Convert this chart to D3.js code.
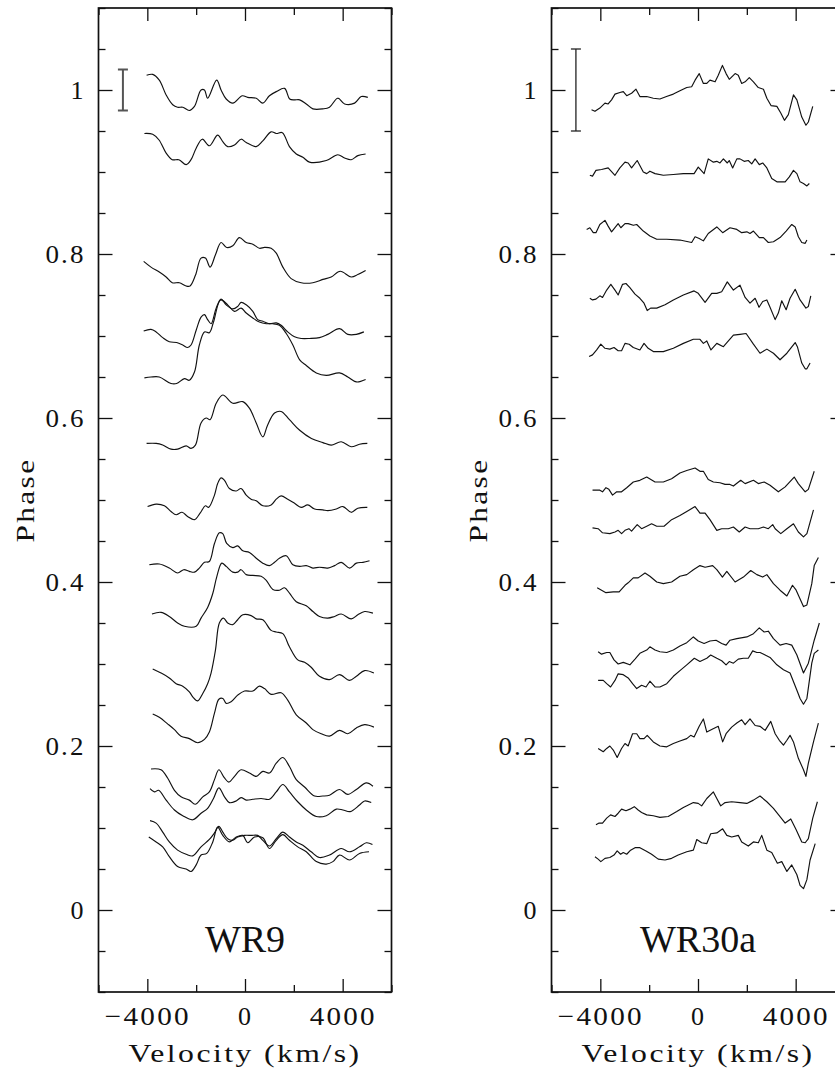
<!DOCTYPE html>
<html lang="en">
<head>
<meta charset="UTF-8">
<title>WR9 / WR30a line profiles by phase</title>
<style>
  html, body { margin: 0; padding: 0; background: #ffffff; }
  svg { display: block; }
  text { font-family: "Liberation Serif", "DejaVu Serif", serif; fill: #111; }
  .lbl { letter-spacing: 2px; }
</style>
</head>
<body>
<svg id="svg" width="835" height="1070"></svg>
<script src="https://d3js.org/d3.v7.min.js"></script>
<script>
// axis ticks and labels
const xMajor = [-4000, 0, 4000];
const xLabels = ["\u22124000", "0", "4000"];
const xMinor = [-6000, -2000, 2000, 6000];
const yMajor = [0, 0.2, 0.4, 0.6, 0.8, 1];
const yLabels = ["0", "0.2", "0.4", "0.6", "0.8", "1"];
const yMinor = [-0.1, -0.05, 0.05, 0.1, 0.15, 0.25, 0.3, 0.35, 0.45, 0.5, 0.55, 0.65, 0.7, 0.75, 0.85, 0.9, 0.95, 1.05, 1.1];

// WR9 profiles, [velocity km/s, phase]
const wr9Spectra = [
  [[-4030,1.018],[-3780,1.019],[-3510,1.012],[-3230,0.994],[-2960,0.982],[-2760,0.979],[-2550,0.979],[-2280,0.975],[-2070,0.980],[-1800,1.000],[-1660,1.000],[-1530,0.990],[-1160,1.012],[-980,1.000],[-770,0.989],[-500,0.984],[-110,0.993],[110,0.991],[460,0.990],[730,0.984],[1000,0.993],[1280,0.998],[1620,1.002],[1830,0.989],[2030,0.988],[2240,0.988],[2510,0.983],[2780,0.977],[3190,0.977],[3460,0.979],[3800,0.990],[4080,0.983],[4490,0.984],[4760,0.992],[5030,0.991]],
  [[-4120,0.947],[-3780,0.946],[-3520,0.939],[-3230,0.923],[-2980,0.915],[-2710,0.915],[-2410,0.909],[-2210,0.915],[-2000,0.929],[-1750,0.940],[-1460,0.932],[-1120,0.945],[-910,0.937],[-710,0.931],[-430,0.933],[-160,0.940],[50,0.936],[460,0.931],[730,0.938],[1070,0.949],[1280,0.947],[1530,0.948],[1820,0.931],[2100,0.922],[2370,0.918],[2640,0.912],[3330,0.914],[3800,0.921],[4080,0.917],[4350,0.915],[4620,0.920],[4940,0.922]],
  [[-4150,0.791],[-3850,0.784],[-3510,0.778],[-3230,0.772],[-2980,0.765],[-2690,0.765],[-2410,0.761],[-2250,0.761],[-2030,0.774],[-1800,0.795],[-1620,0.795],[-1430,0.784],[-1210,0.799],[-980,0.814],[-750,0.808],[-500,0.810],[-230,0.820],[50,0.814],[320,0.812],[590,0.807],[800,0.808],[1070,0.807],[1280,0.801],[1550,0.784],[1890,0.770],[2300,0.765],[2780,0.765],[3190,0.769],[3530,0.772],[3900,0.779],[4350,0.772],[4620,0.775],[4940,0.780]],
  [[-4150,0.706],[-3850,0.708],[-3640,0.705],[-3370,0.698],[-3100,0.693],[-2800,0.692],[-2550,0.689],[-2350,0.686],[-2210,0.689],[-2000,0.707],[-1800,0.723],[-1660,0.726],[-1530,0.720],[-1390,0.715],[-1180,0.734],[-980,0.745],[-770,0.738],[-500,0.733],[-300,0.736],[-160,0.741],[50,0.738],[320,0.730],[520,0.720],[730,0.718],[1000,0.715],[1280,0.716],[1480,0.713],[1750,0.705],[2030,0.699],[2300,0.697],[2640,0.697],[3050,0.698],[3390,0.702],[3870,0.709],[4210,0.702],[4560,0.702],[4870,0.705]],
  [[-4120,0.649],[-3850,0.650],[-3510,0.650],[-3030,0.642],[-2800,0.642],[-2480,0.648],[-2280,0.646],[-2070,0.656],[-1870,0.689],[-1660,0.705],[-1460,0.704],[-1290,0.717],[-1000,0.744],[-710,0.738],[-430,0.730],[-160,0.734],[50,0.728],[320,0.722],[590,0.717],[870,0.715],[1140,0.715],[1410,0.713],[1690,0.703],[1960,0.689],[2240,0.671],[2510,0.664],[2920,0.655],[3330,0.652],[3870,0.655],[4210,0.650],[4560,0.644],[4940,0.647]],
  [[-4030,0.569],[-3640,0.569],[-3370,0.567],[-3030,0.562],[-2760,0.562],[-2410,0.566],[-2210,0.563],[-2030,0.567],[-1800,0.594],[-1590,0.600],[-1430,0.598],[-1180,0.618],[-910,0.628],[-500,0.618],[-90,0.620],[180,0.612],[460,0.594],[730,0.577],[920,0.591],[1210,0.606],[1480,0.608],[1820,0.598],[2240,0.585],[2720,0.575],[3190,0.570],[3530,0.567],[3940,0.571],[4350,0.565],[4690,0.568],[5010,0.569]],
  [[-3990,0.492],[-3640,0.495],[-3300,0.493],[-3030,0.486],[-2820,0.482],[-2580,0.485],[-2350,0.480],[-2070,0.476],[-1840,0.484],[-1620,0.493],[-1490,0.491],[-1250,0.506],[-1120,0.520],[-980,0.527],[-840,0.524],[-640,0.514],[-360,0.511],[-160,0.514],[50,0.506],[250,0.501],[460,0.499],[730,0.493],[1070,0.494],[1280,0.501],[1480,0.505],[1750,0.501],[2030,0.496],[2300,0.491],[2570,0.494],[2850,0.489],[3190,0.488],[3390,0.487],[3740,0.489],[4010,0.492],[4350,0.485],[4620,0.490],[5010,0.491]],
  [[-3920,0.421],[-3510,0.422],[-3100,0.417],[-2760,0.411],[-2510,0.415],[-2280,0.413],[-2070,0.412],[-1870,0.417],[-1660,0.424],[-1460,0.425],[-1250,0.447],[-1050,0.460],[-910,0.459],[-750,0.447],[-500,0.442],[-300,0.444],[-90,0.438],[180,0.436],[460,0.429],[730,0.423],[1000,0.420],[1210,0.424],[1410,0.429],[1690,0.432],[1960,0.421],[2240,0.419],[2510,0.420],[2780,0.417],[3050,0.418],[3390,0.417],[3670,0.420],[3940,0.424],[4280,0.417],[4560,0.423],[4830,0.424],[5100,0.426]],
  [[-3810,0.361],[-3440,0.363],[-3100,0.358],[-2760,0.350],[-2480,0.346],[-2000,0.346],[-1800,0.356],[-1530,0.369],[-1320,0.386],[-1160,0.406],[-950,0.423],[-770,0.419],[-500,0.412],[-300,0.412],[-160,0.415],[50,0.409],[320,0.408],[660,0.407],[870,0.402],[1140,0.391],[1410,0.390],[1620,0.393],[1830,0.386],[2100,0.376],[2510,0.371],[2780,0.364],[3050,0.358],[3390,0.356],[3670,0.358],[3940,0.361],[4350,0.355],[4620,0.360],[4900,0.364],[5240,0.362]],
  [[-3780,0.294],[-3440,0.289],[-3100,0.283],[-2820,0.276],[-2550,0.273],[-2280,0.266],[-2140,0.260],[-1940,0.255],[-1730,0.264],[-1530,0.276],[-1390,0.289],[-1210,0.317],[-1050,0.350],[-880,0.356],[-710,0.350],[-500,0.348],[-300,0.354],[-90,0.360],[250,0.359],[460,0.355],[730,0.354],[1070,0.341],[1280,0.339],[1550,0.337],[1820,0.321],[2160,0.305],[2440,0.302],[2710,0.296],[3050,0.285],[3460,0.281],[3870,0.287],[4280,0.280],[4560,0.285],[4900,0.292],[5280,0.289]],
  [[-3780,0.239],[-3510,0.235],[-3170,0.227],[-2890,0.220],[-2620,0.212],[-2280,0.209],[-1940,0.204],[-1660,0.208],[-1460,0.217],[-1250,0.240],[-1070,0.257],[-910,0.258],[-770,0.252],[-570,0.254],[-300,0.262],[-20,0.267],[320,0.267],[590,0.273],[800,0.270],[1070,0.263],[1480,0.265],[1750,0.256],[2100,0.238],[2510,0.228],[2780,0.220],[3120,0.215],[3460,0.212],[3870,0.219],[4210,0.215],[4560,0.222],[4900,0.226],[5280,0.223]],
  [[-3850,0.172],[-3440,0.171],[-3170,0.161],[-2890,0.146],[-2620,0.138],[-2280,0.134],[-2040,0.129],[-1730,0.138],[-1460,0.144],[-1250,0.159],[-1070,0.171],[-840,0.161],[-660,0.156],[-430,0.163],[-160,0.171],[180,0.167],[460,0.163],[730,0.169],[1000,0.167],[1280,0.179],[1550,0.186],[1820,0.175],[2100,0.159],[2440,0.150],[2850,0.139],[3190,0.139],[3460,0.140],[3870,0.147],[4210,0.141],[4560,0.147],[4970,0.155],[5240,0.151]],
  [[-3890,0.148],[-3710,0.144],[-3540,0.146],[-3230,0.134],[-2890,0.122],[-2550,0.115],[-2140,0.110],[-1800,0.118],[-1530,0.124],[-1290,0.136],[-1070,0.149],[-840,0.138],[-640,0.131],[-360,0.133],[-160,0.137],[50,0.134],[320,0.135],[660,0.136],[1000,0.135],[1280,0.144],[1550,0.153],[1820,0.144],[2160,0.132],[2510,0.122],[2920,0.114],[3330,0.115],[3740,0.123],[4010,0.122],[4310,0.120],[4690,0.128],[4900,0.133],[5170,0.131]],
  [[-3890,0.109],[-3640,0.106],[-3370,0.095],[-3100,0.083],[-2760,0.073],[-2410,0.068],[-2140,0.066],[-1800,0.077],[-1460,0.086],[-1250,0.094],[-1070,0.102],[-910,0.095],[-710,0.087],[-500,0.085],[-300,0.089],[-20,0.091],[250,0.091],[520,0.091],[730,0.085],[1000,0.078],[1280,0.087],[1550,0.095],[1820,0.089],[2100,0.083],[2370,0.079],[2710,0.071],[3050,0.064],[3460,0.067],[3940,0.075],[4280,0.071],[4690,0.077],[4970,0.082],[5220,0.080]],
  [[-3940,0.089],[-3640,0.083],[-3370,0.077],[-3100,0.065],[-2760,0.053],[-2410,0.050],[-2210,0.047],[-2000,0.055],[-1800,0.067],[-1570,0.069],[-1320,0.083],[-1120,0.101],[-910,0.091],[-640,0.083],[-360,0.089],[-90,0.091],[110,0.082],[390,0.089],[730,0.088],[1000,0.075],[1280,0.085],[1550,0.092],[1820,0.085],[2160,0.077],[2510,0.071],[2920,0.059],[3330,0.056],[3600,0.059],[3870,0.067],[4280,0.061],[4690,0.069],[5080,0.071]]
];

// WR30a profiles, [velocity km/s, phase]
const wr30aSpectra = [
  [[-4360,0.976],[-4220,0.974],[-4020,0.978],[-3810,0.984],[-3680,0.983],[-3540,0.988],[-3400,0.995],[-3200,0.997],[-3060,0.998],[-2920,0.993],[-2720,0.996],[-2540,1.001],[-2380,0.992],[-2100,0.992],[-1830,0.990],[-1560,0.989],[-1290,0.992],[-1010,0.995],[-740,0.999],[-460,1.003],[-260,1.004],[-120,1.012],[50,1.020],[220,1.008],[360,1.008],[490,1.012],[700,1.010],[830,1.018],[1000,1.030],[1150,1.020],[1280,1.013],[1520,1.020],[1650,1.018],[1790,1.008],[1930,1.010],[2100,1.015],[2270,1.010],[2470,1.003],[2680,1.001],[2820,0.990],[2990,0.981],[3230,0.980],[3390,0.972],[3540,0.963],[3700,0.970],[3910,0.994],[4050,0.988],[4250,0.967],[4420,0.957],[4520,0.961],[4700,0.980]],
  [[-4430,0.896],[-4320,0.895],[-4180,0.902],[-3950,0.903],[-3680,0.905],[-3400,0.896],[-3200,0.905],[-2990,0.912],[-2860,0.911],[-2720,0.905],[-2490,0.914],[-2240,0.900],[-2100,0.898],[-1970,0.901],[-1760,0.898],[-1420,0.896],[-1010,0.897],[-600,0.898],[-160,0.898],[10,0.906],[250,0.898],[420,0.916],[630,0.912],[770,0.913],[900,0.911],[1040,0.916],[1200,0.911],[1280,0.914],[1420,0.905],[1590,0.916],[1720,0.916],[1890,0.913],[2060,0.914],[2200,0.910],[2340,0.916],[2510,0.909],[2650,0.911],[2820,0.905],[3020,0.892],[3230,0.888],[3570,0.888],[3740,0.894],[3910,0.902],[4050,0.898],[4180,0.888],[4320,0.886],[4460,0.883],[4560,0.886]],
  [[-4560,0.830],[-4430,0.832],[-4290,0.826],[-4180,0.826],[-4020,0.836],[-3810,0.841],[-3680,0.834],[-3540,0.827],[-3270,0.837],[-3160,0.832],[-2990,0.837],[-2860,0.837],[-2650,0.835],[-2510,0.836],[-2240,0.828],[-1970,0.822],[-1690,0.818],[-1280,0.818],[-740,0.817],[-260,0.814],[-120,0.821],[50,0.819],[220,0.816],[420,0.825],[770,0.833],[1010,0.826],[1310,0.832],[1590,0.830],[1790,0.826],[2000,0.827],[2130,0.825],[2270,0.828],[2510,0.820],[2680,0.820],[2880,0.814],[3090,0.815],[3360,0.820],[3610,0.828],[3840,0.836],[3980,0.833],[4110,0.821],[4250,0.814],[4390,0.813],[4460,0.817]],
  [[-4430,0.746],[-4320,0.744],[-4180,0.745],[-4020,0.749],[-3910,0.747],[-3740,0.756],[-3570,0.763],[-3400,0.756],[-3270,0.750],[-3090,0.763],[-2950,0.764],[-2790,0.759],[-2580,0.751],[-2380,0.746],[-2210,0.740],[-2080,0.731],[-1940,0.734],[-1690,0.734],[-1350,0.738],[-1010,0.744],[-600,0.750],[-160,0.755],[10,0.752],[290,0.741],[560,0.752],[770,0.752],[970,0.754],[1200,0.766],[1450,0.756],[1720,0.762],[1930,0.747],[2130,0.740],[2340,0.746],[2500,0.735],[2650,0.742],[2820,0.744],[2950,0.735],[3160,0.720],[3290,0.728],[3430,0.743],[3610,0.732],[3770,0.746],[3980,0.757],[4180,0.744],[4420,0.734],[4520,0.736],[4620,0.749]],
  [[-4460,0.675],[-4320,0.677],[-4150,0.683],[-3980,0.690],[-3810,0.685],[-3610,0.684],[-3440,0.686],[-3270,0.682],[-3130,0.682],[-2990,0.691],[-2820,0.690],[-2650,0.686],[-2380,0.683],[-2210,0.691],[-2040,0.685],[-1830,0.681],[-1420,0.681],[-1010,0.685],[-600,0.691],[-190,0.696],[80,0.696],[220,0.691],[360,0.694],[530,0.683],[770,0.691],[1040,0.687],[1450,0.701],[1720,0.702],[1970,0.703],[2270,0.690],[2540,0.679],[2820,0.684],[3090,0.679],[3360,0.671],[3640,0.679],[3980,0.692],[4070,0.687],[4250,0.667],[4390,0.660],[4460,0.660],[4590,0.667]],
  [[-4320,0.512],[-4020,0.512],[-3910,0.510],[-3770,0.515],[-3650,0.513],[-3500,0.506],[-3330,0.510],[-3130,0.510],[-2920,0.515],[-2650,0.522],[-2380,0.524],[-2100,0.528],[-1760,0.522],[-1420,0.522],[-1080,0.526],[-740,0.533],[-460,0.536],[-120,0.539],[80,0.535],[220,0.535],[420,0.525],[630,0.522],[900,0.521],[1110,0.519],[1310,0.519],[1450,0.517],[1750,0.524],[1930,0.520],[2270,0.524],[2470,0.520],[2710,0.522],[2950,0.518],[3290,0.510],[3570,0.516],[3940,0.528],[4110,0.520],[4390,0.510],[4520,0.513],[4760,0.535]],
  [[-4320,0.466],[-4090,0.465],[-3910,0.460],[-3610,0.459],[-3400,0.461],[-3270,0.463],[-3130,0.459],[-2990,0.463],[-2830,0.465],[-2720,0.462],[-2490,0.470],[-2310,0.465],[-2100,0.468],[-1900,0.471],[-1690,0.468],[-1390,0.468],[-1080,0.476],[-740,0.481],[-460,0.486],[-120,0.492],[80,0.484],[290,0.484],[490,0.476],[770,0.463],[970,0.465],[1240,0.465],[1450,0.467],[1690,0.461],[1930,0.467],[2130,0.465],[2470,0.465],[2680,0.467],[2880,0.465],[3060,0.470],[3160,0.465],[3390,0.459],[3640,0.465],[3910,0.471],[4110,0.461],[4320,0.455],[4460,0.459],[4730,0.488]],
  [[-4130,0.393],[-3950,0.390],[-3770,0.387],[-3470,0.388],[-3230,0.388],[-2990,0.396],[-2860,0.399],[-2650,0.405],[-2450,0.405],[-2170,0.411],[-1970,0.407],[-1690,0.400],[-1420,0.398],[-1080,0.400],[-740,0.407],[-460,0.409],[-190,0.415],[80,0.420],[290,0.418],[600,0.420],[770,0.415],[1000,0.406],[1180,0.413],[1520,0.400],[1860,0.406],[2160,0.414],[2410,0.409],[2650,0.406],[2820,0.409],[3090,0.398],[3360,0.390],[3640,0.383],[3870,0.396],[4020,0.390],[4320,0.370],[4460,0.372],[4660,0.398],[4760,0.420],[4930,0.430]],
  [[-4090,0.315],[-3950,0.312],[-3740,0.314],[-3610,0.314],[-3440,0.305],[-3270,0.300],[-3060,0.302],[-2790,0.299],[-2580,0.306],[-2380,0.313],[-2100,0.317],[-1970,0.321],[-1760,0.317],[-1560,0.315],[-1280,0.314],[-1010,0.317],[-740,0.322],[-460,0.326],[-190,0.333],[10,0.328],[250,0.325],[490,0.328],[740,0.329],[970,0.325],[1150,0.323],[1310,0.329],[1590,0.331],[2000,0.333],[2270,0.337],[2510,0.344],[2710,0.339],[2880,0.340],[3090,0.331],[3360,0.323],[3610,0.325],[3840,0.323],[4050,0.311],[4320,0.289],[4520,0.301],[4760,0.329],[4970,0.350]],
  [[-4090,0.280],[-3880,0.280],[-3740,0.276],[-3580,0.272],[-3400,0.280],[-3270,0.288],[-3060,0.287],[-2860,0.283],[-2680,0.276],[-2510,0.270],[-2310,0.274],[-2130,0.272],[-1970,0.279],[-1760,0.272],[-1560,0.272],[-1280,0.276],[-1010,0.285],[-740,0.292],[-460,0.299],[-150,0.307],[80,0.303],[360,0.307],[520,0.311],[770,0.307],[970,0.304],[1150,0.299],[1280,0.303],[1450,0.301],[1650,0.306],[1860,0.307],[2060,0.307],[2240,0.316],[2410,0.314],[2540,0.314],[2750,0.311],[2950,0.308],[3230,0.299],[3500,0.293],[3770,0.289],[4050,0.268],[4180,0.258],[4320,0.251],[4460,0.258],[4660,0.301],[4760,0.313],[4930,0.317]],
  [[-4090,0.197],[-3880,0.193],[-3740,0.197],[-3610,0.200],[-3470,0.195],[-3310,0.186],[-3130,0.197],[-2990,0.203],[-2860,0.200],[-2680,0.215],[-2510,0.215],[-2380,0.209],[-2210,0.209],[-2080,0.213],[-1830,0.205],[-1560,0.200],[-1280,0.199],[-1010,0.203],[-740,0.206],[-460,0.209],[-300,0.213],[-160,0.211],[50,0.224],[220,0.233],[360,0.217],[560,0.220],[830,0.224],[1010,0.205],[1150,0.215],[1380,0.223],[1590,0.228],[1790,0.232],[1930,0.226],[2130,0.233],[2340,0.225],[2540,0.224],[2750,0.219],[2980,0.230],[3160,0.215],[3330,0.207],[3500,0.201],[3640,0.207],[3770,0.213],[3910,0.205],[4110,0.185],[4320,0.171],[4420,0.163],[4520,0.179],[4730,0.205],[4930,0.228]],
  [[-4180,0.104],[-4050,0.106],[-3910,0.106],[-3740,0.112],[-3580,0.116],[-3400,0.114],[-3270,0.118],[-3130,0.123],[-2950,0.121],[-2790,0.123],[-2610,0.126],[-2450,0.122],[-2310,0.119],[-2100,0.116],[-1830,0.115],[-1560,0.113],[-1220,0.114],[-870,0.120],[-600,0.125],[-190,0.131],[10,0.130],[150,0.127],[360,0.136],[630,0.144],[770,0.136],[930,0.127],[1110,0.131],[1380,0.132],[1720,0.131],[2000,0.130],[2270,0.134],[2540,0.139],[2820,0.132],[3090,0.124],[3360,0.114],[3570,0.106],[3800,0.111],[4020,0.098],[4250,0.083],[4390,0.082],[4520,0.087],[4700,0.112],[4890,0.132]],
  [[-4220,0.065],[-4090,0.062],[-3980,0.059],[-3810,0.063],[-3610,0.064],[-3440,0.067],[-3310,0.072],[-3170,0.068],[-3060,0.070],[-2920,0.068],[-2760,0.073],[-2580,0.076],[-2380,0.076],[-2130,0.072],[-1900,0.068],[-1630,0.062],[-1350,0.061],[-1080,0.063],[-810,0.067],[-460,0.071],[-190,0.073],[-50,0.086],[150,0.082],[360,0.081],[520,0.093],[770,0.094],[1010,0.099],[1180,0.091],[1380,0.089],[1650,0.091],[1790,0.083],[2060,0.078],[2270,0.083],[2470,0.082],[2610,0.091],[2820,0.073],[3020,0.070],[3250,0.057],[3430,0.059],[3640,0.047],[3840,0.055],[4050,0.043],[4180,0.030],[4320,0.026],[4460,0.037],[4590,0.061],[4800,0.081]]
];

// flux scale bars: [velocity, phase low, phase high]
const wr9Bar = [-5000, 0.975, 1.025];
const wr30aBar = [-5000, 0.95, 1.05];

const panels = [
  { name: "WR9", left: 98.5, spectra: wr9Spectra, bar: wr9Bar, barColor: "#555", barWidth: 2, curve: d3.curveCatmullRom.alpha(0.5) },
  { name: "WR30a", left: 551.5, spectra: wr30aSpectra, bar: wr30aBar, barColor: "#222", barWidth: 1.3, curve: d3.curveLinear }
];

// drawn widths of the wide plotting font, per label
const labelWidth = { "\u22124000": 86, "4000": 67, "0.2": 40, "0.4": 40, "0.6": 40, "0.8": 40 };

const svg = d3.select("#svg");
svg.append("rect").attr("width", 835).attr("height", 1070).attr("fill", "#fff");

const panelW = 293, plotTop = 8, plotBottom = 992;
const y = d3.scaleLinear().domain([-0.1, 1.1]).range([plotBottom, plotTop]);

panels.forEach(p => {
  const x = d3.scaleLinear().domain([-6000, 6000]).range([p.left, p.left + panelW]);
  const g = svg.append("g");

  const style = sel => {
    sel.select(".domain").remove();
    sel.selectAll("line").attr("stroke", "#111").attr("stroke-width", 1.3);
    sel.selectAll("text")
      .attr("class", "lbl")
      .attr("font-family", "Liberation Serif, DejaVu Serif, serif")
      .attr("font-size", 26).attr("fill", "#111")
      .each(function () {
        const w = labelWidth[this.textContent];
        if (w) d3.select(this).attr("textLength", w).attr("lengthAdjust", "spacingAndGlyphs");
      });
    sel.attr("font-family", null).attr("font-size", null);
  };

  // bottom
  g.append("g").attr("transform", `translate(0,${plotBottom})`)
    .call(d3.axisBottom(x).tickValues(xMajor).tickSize(-13).tickPadding(15).tickFormat((d, i) => xLabels[i]))
    .call(style);
  g.append("g").attr("transform", `translate(0,${plotBottom})`)
    .call(d3.axisBottom(x).tickValues(xMinor).tickSize(-7).tickFormat("")).call(style);
  // top
  g.append("g").attr("transform", `translate(0,${plotTop})`)
    .call(d3.axisTop(x).tickValues(xMajor).tickSize(-13).tickFormat("")).call(style);
  g.append("g").attr("transform", `translate(0,${plotTop})`)
    .call(d3.axisTop(x).tickValues(xMinor).tickSize(-7).tickFormat("")).call(style);
  // left
  g.append("g").attr("transform", `translate(${p.left},0)`)
    .call(d3.axisLeft(y).tickValues(yMajor).tickSize(-14).tickPadding(13).tickFormat((d, i) => yLabels[i]))
    .call(style);
  g.append("g").attr("transform", `translate(${p.left},0)`)
    .call(d3.axisLeft(y).tickValues(yMinor).tickSize(-7).tickFormat("")).call(style);
  // right
  g.append("g").attr("transform", `translate(${p.left + panelW},0)`)
    .call(d3.axisRight(y).tickValues(yMajor).tickSize(-14).tickFormat("")).call(style);
  g.append("g").attr("transform", `translate(${p.left + panelW},0)`)
    .call(d3.axisRight(y).tickValues(yMinor).tickSize(-7).tickFormat("")).call(style);

  // frame
  g.append("rect")
    .attr("x", p.left).attr("y", plotTop)
    .attr("width", panelW).attr("height", plotBottom - plotTop)
    .attr("fill", "none").attr("stroke", "#111").attr("stroke-width", 1.7);

  // spectra
  const line = d3.line().x(d => x(d[0])).y(d => y(d[1])).curve(p.curve);
  g.selectAll("path.spec").data(p.spectra).enter().append("path")
    .attr("class", "spec")
    .attr("d", line)
    .attr("fill", "none").attr("stroke", "#111").attr("stroke-width", 1.15)
    .attr("stroke-linejoin", "round");

  // scale bar
  const bx = x(p.bar[0]);
  const bar = g.append("g").attr("stroke", p.barColor).attr("stroke-width", p.barWidth);
  bar.append("line").attr("x1", bx).attr("x2", bx).attr("y1", y(p.bar[1])).attr("y2", y(p.bar[2]));
  bar.append("line").attr("x1", bx - 5).attr("x2", bx + 5).attr("y1", y(p.bar[1])).attr("y2", y(p.bar[1]));
  bar.append("line").attr("x1", bx - 5).attr("x2", bx + 5).attr("y1", y(p.bar[2])).attr("y2", y(p.bar[2]));

  // star name
  g.append("text")
    .attr("x", x(0)).attr("y", y(-0.051))
    .attr("text-anchor", "middle")
    .attr("font-size", 38)
    .text(p.name);

  // axis titles
  g.append("text")
    .attr("class", "lbl")
    .attr("x", x(0)).attr("y", 1062)
    .attr("text-anchor", "middle")
    .attr("font-size", 26)
    .attr("textLength", 233).attr("lengthAdjust", "spacingAndGlyphs")
    .text("Velocity (km/s)");
  g.append("text")
    .attr("class", "lbl")
    .attr("transform", `translate(${p.left - 65},${y(0.5)}) rotate(-90)`)
    .attr("text-anchor", "middle")
    .attr("font-size", 26)
    .attr("textLength", 85).attr("lengthAdjust", "spacingAndGlyphs")
    .text("Phase");
});
</script>
</body>
</html>
